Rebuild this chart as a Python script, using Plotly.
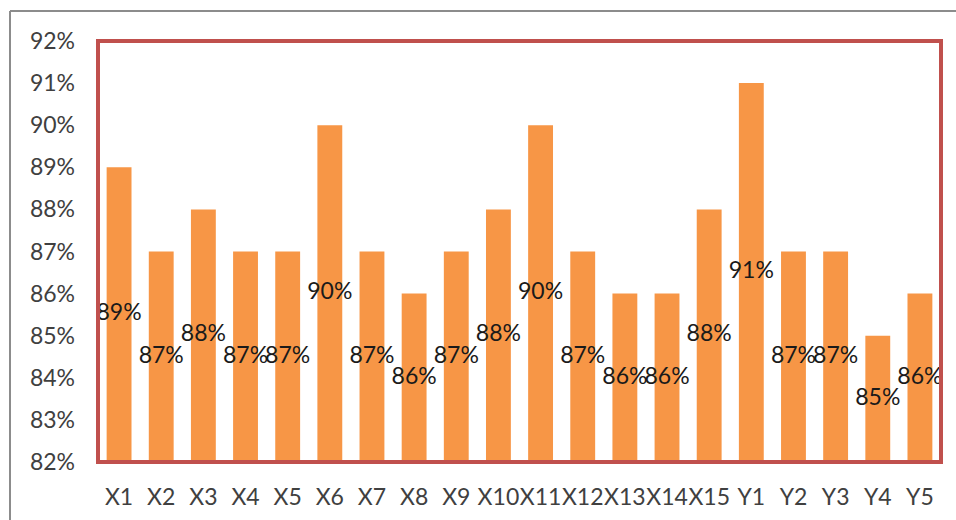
import plotly.graph_objects as go

# Share of each unit, in percent
categories = ["X1", "X2", "X3", "X4", "X5", "X6", "X7", "X8", "X9", "X10",
              "X11", "X12", "X13", "X14", "X15", "Y1", "Y2", "Y3", "Y4", "Y5"]
values_pct = [89, 87, 88, 87, 87, 90, 87, 86, 87, 88,
              90, 87, 86, 86, 88, 91, 87, 87, 85, 86]
y_min_pct = 82
y_max_pct = 92

values = [v / 100 for v in values_pct]
y_min = y_min_pct / 100
y_max = y_max_pct / 100

# Value labels sit in the middle of the visible part of each bar
label_y = [(y_min + v) / 2 for v in values]
label_text = [f"{v}%" for v in values_pct]

W, H = 956, 520
L, R, T, B = 98, 15, 41, 58
pw, ph = W - L - R, H - T - B

FONT = "Lato, 'Open Sans', sans-serif"
FS = 23

fig = go.Figure()
fig.add_trace(go.Bar(
    x=categories, y=values,
    marker=dict(color="#F79646", line=dict(width=0)),
    hoverinfo="skip",
))
fig.add_trace(go.Scatter(
    x=categories, y=label_y, mode="text", text=label_text,
    textposition="middle center",
    textfont=dict(family=FONT, size=FS, color="#1a1a1a"),
    hoverinfo="skip",
))


def px_x(p):
    return (p - L) / pw


def px_y(p):
    return 1 - (p - T) / ph


fig.update_layout(
    width=W, height=H,
    margin=dict(l=L, r=R, t=T, b=B, autoexpand=False),
    paper_bgcolor="white", plot_bgcolor="white",
    showlegend=False,
    bargap=0.41,
    xaxis=dict(
        range=[-0.5, len(categories) - 0.5],
        showgrid=False, zeroline=False, showline=True,
        linecolor="#8a8aa8", linewidth=1,
        ticks="", tickangle=0, automargin=False,
        tickfont=dict(family=FONT, size=FS, color="#404040"),
        ticklabelstandoff=14,
    ),
    yaxis=dict(
        range=[y_min, y_max], dtick=0.01, tickformat=".0%",
        showgrid=False, zeroline=False, showline=False, automargin=False,
        ticks="", tickfont=dict(family=FONT, size=FS, color="#404040"),
        ticklabelstandoff=22,
    ),
    shapes=[
        # plot-area frame
        dict(type="rect", xref="paper", yref="paper", x0=0, x1=1, y0=0, y1=1,
             line=dict(color="#C0504D", width=4), layer="above"),
        # outer chart frame (left and top edges)
        dict(type="line", xref="paper", yref="paper",
             x0=px_x(10), x1=px_x(10), y0=px_y(11), y1=px_y(H + 5),
             line=dict(color="#8c8c8c", width=2)),
        dict(type="line", xref="paper", yref="paper",
             x0=px_x(10), x1=px_x(W + 5), y0=px_y(11), y1=px_y(11),
             line=dict(color="#8c8c8c", width=2)),
    ],
)

fig.write_html("out.html")
